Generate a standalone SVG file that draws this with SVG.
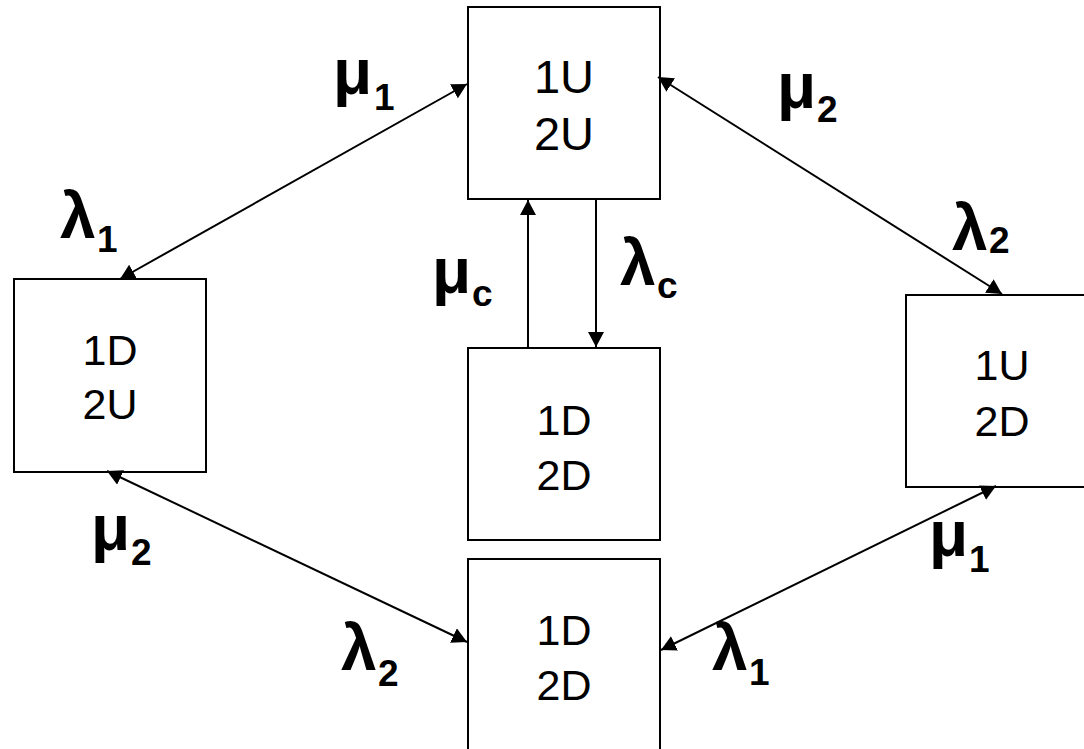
<svg xmlns="http://www.w3.org/2000/svg" width="1084" height="749" viewBox="0 0 1084 749">
<style>
.box{fill:#fff;stroke:#000;stroke-width:2}
.st{font-family:"Liberation Sans",Arial,sans-serif;fill:#000;text-anchor:middle;font-size:43px}
.g{font-family:"Liberation Sans",Arial,sans-serif;font-weight:bold;font-size:64px;fill:#000}
.s{font-size:37px}
.c{stroke:#000;stroke-width:2;fill:none}
</style>
<defs>
<marker id="ah" viewBox="0 0 15 16" refX="15" refY="8" markerWidth="15" markerHeight="16" markerUnits="userSpaceOnUse" orient="auto-start-reverse">
<path d="M0,0 L15,8 L0,16 z" fill="#000"/>
</marker>
</defs>
<rect width="1084" height="749" fill="#fff"/>
<g id="n-top">
<rect class="box" x="468" y="7" width="192" height="192"/>
<text class="st" style="font-size:47px" x="564" y="93">1U</text>
<text class="st" style="font-size:47px" x="564" y="150">2U</text>
</g>
<g id="n-left">
<rect class="box" x="14" y="279" width="192" height="193"/>
<text class="st" x="110" y="365">1D</text>
<text class="st" x="110" y="419">2U</text>
</g>
<g id="n-right">
<rect class="box" x="906" y="295" width="192" height="192"/>
<text class="st" x="1002" y="380">1U</text>
<text class="st" x="1002" y="436">2D</text>
</g>
<g id="n-mid">
<rect class="box" x="468" y="348" width="192" height="192"/>
<text class="st" x="564" y="435">1D</text>
<text class="st" x="564" y="490">2D</text>
</g>
<g id="n-bottom">
<rect class="box" x="468" y="559" width="192" height="192"/>
<text class="st" x="564" y="645">1D</text>
<text class="st" x="564" y="700">2D</text>
</g>
<g id="connectors">
<line class="c" x1="120" y1="279" x2="467" y2="84" marker-start="url(#ah)" marker-end="url(#ah)"/>
<line class="c" x1="658" y1="77" x2="1002" y2="294" marker-start="url(#ah)" marker-end="url(#ah)"/>
<line class="c" x1="528" y1="348" x2="528" y2="200" marker-end="url(#ah)"/>
<line class="c" x1="596" y1="199" x2="596" y2="347" marker-end="url(#ah)"/>
<line class="c" x1="107" y1="471" x2="467" y2="642" marker-start="url(#ah)" marker-end="url(#ah)"/>
<line class="c" x1="661" y1="650" x2="996" y2="486" marker-start="url(#ah)" marker-end="url(#ah)"/>
</g>
<g id="labels">
<text class="g" x="333" y="94">μ<tspan class="s" x="374" y="110">1</tspan></text>
<text class="g" x="60" y="238">λ<tspan class="s" x="97" y="252">1</tspan></text>
<text class="g" x="777" y="108">μ<tspan class="s" x="817" y="122">2</tspan></text>
<text class="g" x="952" y="250">λ<tspan class="s" x="989" y="253">2</tspan></text>
<text class="g" x="432" y="293">μ<tspan class="s" x="472" y="306">c</tspan></text>
<text class="g" x="620" y="285">λ<tspan class="s" x="657" y="298">c</tspan></text>
<text class="g" x="91" y="550">μ<tspan class="s" x="131" y="565">2</tspan></text>
<text class="g" x="341" y="670">λ<tspan class="s" x="378" y="686">2</tspan></text>
<text class="g" x="929" y="556">μ<tspan class="s" x="969" y="572">1</tspan></text>
<text class="g" x="712" y="670">λ<tspan class="s" x="749" y="685">1</tspan></text>
</g>
</svg>
